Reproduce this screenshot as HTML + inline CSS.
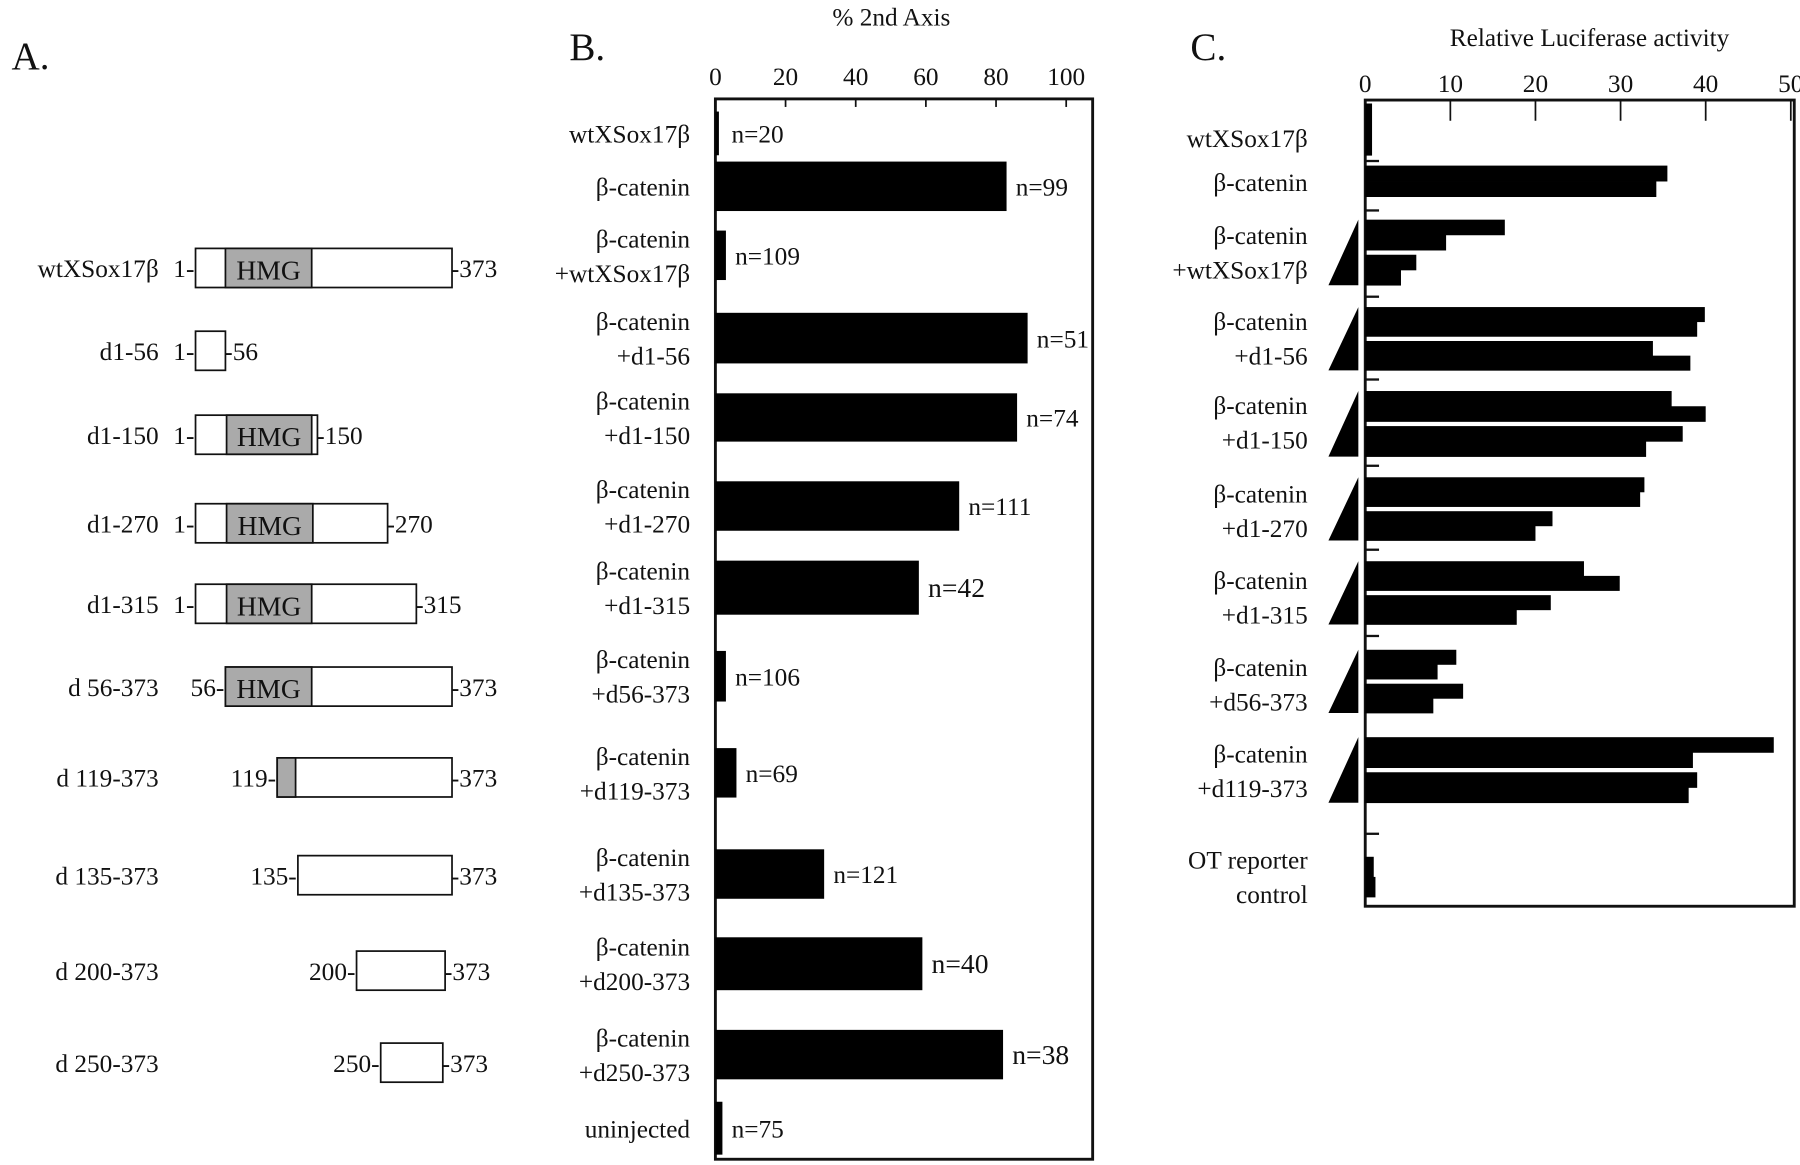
<!DOCTYPE html>
<html><head><meta charset="utf-8"><style>
html,body{margin:0;padding:0;background:#fff}
svg{display:block}
text{font-family:"Liberation Serif",serif;fill:#111}
</style></head><body>
<svg id="fig" width="1800" height="1165" viewBox="0 0 1565 1013" preserveAspectRatio="none">
<text x="10" y="60" font-size="34">A.</text>
<text x="495" y="52" font-size="34">B.</text>
<text x="1035" y="52" font-size="34">C.</text>
<g id="pa"></g>
<g id="pb"></g>
<g id="pc"></g>
</svg>
<script>
const NS="http://www.w3.org/2000/svg";
function mk(parent,tag,attrs,txt){const e=document.createElementNS(NS,tag);for(const k in attrs)e.setAttribute(k,attrs[k]);if(txt!==undefined)e.textContent=txt;parent.appendChild(e);return e;}

// ---------- Panel A ----------
const aNames=["wtXSox17β","d1-56","d1-150","d1-270","d1-315","d 56-373","d 119-373","d 135-373","d 200-373","d 250-373"];
const aStartLbl=["1-","1-","1-","1-","1-","56-","119-","135-","200-","250-"];
const aEndLbl=["-373","-56","-150","-270","-315","-373","-373","-373","-373","-373"];
const aBox=[[170,393],[170,196],[170,276],[170,337],[170,362],[196,393],[241,393],[259,393],[310,387],[331,385]];
const aHmg=[[196,271],null,[197,271],[197,272],[197,271],[196,271],[241,257],null,null,null];
const aHmgTxt=[true,false,true,true,true,true,false,false,false,false];
const aY=[233,305,378,455,525,597,676,761,844,924];
const pa=document.getElementById('pa');
aNames.forEach((n,i)=>{
  const y=aY[i];
  let t=mk(pa,'text',{x:138,y:y+8,'font-size':22,'text-anchor':'end'},n);
  
  
  const b=aBox[i];
  let r=mk(pa,'rect',{x:b[0],y:y-17,width:b[1]-b[0],height:34,fill:'#fff',stroke:'#111','stroke-width':1.5});
  
  
  if(aHmg[i]){let h=mk(pa,'rect',{x:aHmg[i][0],y:y-17,width:aHmg[i][1]-aHmg[i][0],height:34,fill:'#aaa',stroke:'#111','stroke-width':1.5});
    
    }
  if(aHmgTxt[i]){let h2=mk(pa,'text',{x:(aHmg[i][0]+aHmg[i][1])/2,y:y+10,'font-size':24,'text-anchor':'middle'},'HMG');
    
    }
  let s=mk(pa,'text',{x:b[0]-1,y:y+8,'font-size':22,'text-anchor':'end'},aStartLbl[i]);
  
  
  let e=mk(pa,'text',{x:b[1]-1,y:y+8,'font-size':22},aEndLbl[i]);
  
  
});

// ---------- Panel B ----------
const bCats=[["wtXSox17β"],["β-catenin"],["β-catenin","+wtXSox17β"],["β-catenin","+d1-56"],["β-catenin","+d1-150"],["β-catenin","+d1-270"],["β-catenin","+d1-315"],["β-catenin","+d56-373"],["β-catenin","+d119-373"],["β-catenin","+d135-373"],["β-catenin","+d200-373"],["β-catenin","+d250-373"],["uninjected"]];
const bVals=[1,83,3,89,86,69.5,58,3,6,31,59,82,2];
const bN=["n=20","n=99","n=109","n=51","n=74","n=111","n=42","n=106","n=69","n=121","n=40","n=38","n=75"];
const bTicks=[0,20,40,60,80,100];
const bRowY=[116,162,222,294,363,440,511,588,672,760,838,917,981];
const bBarH=[38,43,43,44,42,43,47,44,43,43,46,43,46];
const pb=document.getElementById('pb');
const bx=v=>622+v*3.05;
mk(pb,'text',{x:775,y:22,'font-size':22,'text-anchor':'middle',},'% 2nd Axis');
mk(pb,'rect',{x:622,y:86,width:328,height:922,fill:'none',stroke:'#111','stroke-width':2.5,});
bTicks.forEach(t=>{
  let l=mk(pb,'line',{x1:bx(t),x2:bx(t),y1:86,y2:93,stroke:'#111','stroke-width':1.5});
  
  
  let tx=mk(pb,'text',{x:bx(t),y:74,'font-size':22,'text-anchor':'middle'},String(t));
  
  
});
bCats.forEach((c,i)=>{
  const y=bRowY[i],h=bBarH[i];
  let r=mk(pb,'rect',{x:622,y:y-h/2,width:Math.max(3,bx(bVals[i])-622),height:h,fill:'#000'});
  
  
  let n=mk(pb,'text',{x:Math.max(bx(bVals[i]),628)+8,y:y+8,'font-size':c.length>1&&bVals[i]>50&&i>5?24:22},bN[i]);
  
  
  c.forEach((ln,j)=>{
    let t=mk(pb,'text',{x:600,y:y+8+(c.length>1?(j?15:-15):0),'font-size':22,'text-anchor':'end'},ln);
    
    
  });
});

// ---------- Panel C ----------
const cCats=[["wtXSox17β"],["β-catenin"],["β-catenin","+wtXSox17β"],["β-catenin","+d1-56"],["β-catenin","+d1-150"],["β-catenin","+d1-270"],["β-catenin","+d1-315"],["β-catenin","+d56-373"],["β-catenin","+d119-373"],["OT reporter","control"]];
const cVals=[[0.8],[35.5,34.2],[16.4,9.5,6,4.2],[39.9,39,33.8,38.2],[36,40,37.3,33],[32.8,32.3,22,20],[25.7,29.9,21.8,17.8],[10.7,8.5,11.5,8],[48,38.5,39,38],[1,1.2]];
const cTicks=[0,10,20,30,40,50];
const cTop=[90,144,191,267,340,415,488,565,641,745];
const cBot=[135,171,248,322,397,470,543,620,698,780];
const cLblY=[120,158,219,294,367,444,519,595,670,762];
const cTri=[false,false,true,true,true,true,true,true,true,false];
const cSep=[140,183,258,330,405,478,553,725];
const pc=document.getElementById('pc');
const cx=v=>1187+v*7.4;
mk(pc,'text',{x:1382,y:40,'font-size':22,'text-anchor':'middle',},'Relative Luciferase activity');
mk(pc,'rect',{x:1187,y:87,width:373,height:701,fill:'none',stroke:'#111','stroke-width':2.5,});
cTicks.forEach(t=>{
  let l=mk(pc,'line',{x1:cx(t),x2:cx(t),y1:87,y2:105,stroke:'#111','stroke-width':1.5});
  
  
  let tx=mk(pc,'text',{x:cx(t),y:80,'font-size':22,'text-anchor':'middle'},String(t));
  
  
});
cSep.forEach(y=>{
  let l=mk(pc,'line',{x1:1187,x2:1199,y1:y,y2:y,stroke:'#111','stroke-width':2});
  
  
});
cCats.forEach((c,i)=>{
  const vals=cVals[i],top=cTop[i],bot=cBot[i];
  const gap=vals.length===4?4:0;
  const h=(bot-top-gap)/vals.length;
  vals.forEach((v,j)=>{
    const y=top+j*h+(j>=2?gap:0);
    let r=mk(pc,'rect',{x:1187,y:y,width:Math.max(3,cx(v)-1187),height:h+0.3,fill:'#000'});
    
    
  });
  if(cTri[i]){
    let p=mk(pc,'polygon',{points:`1181,${top} 1181,${bot} 1155,${bot}`,fill:'#000'});
    
    
  }
  c.forEach((ln,j)=>{
    let t=mk(pc,'text',{x:1137,y:cLblY[i]+8+(c.length>1?(j?15:-15):0),'font-size':22,'text-anchor':'end'},ln);
    
    
  });
});
</script>
</body></html>
